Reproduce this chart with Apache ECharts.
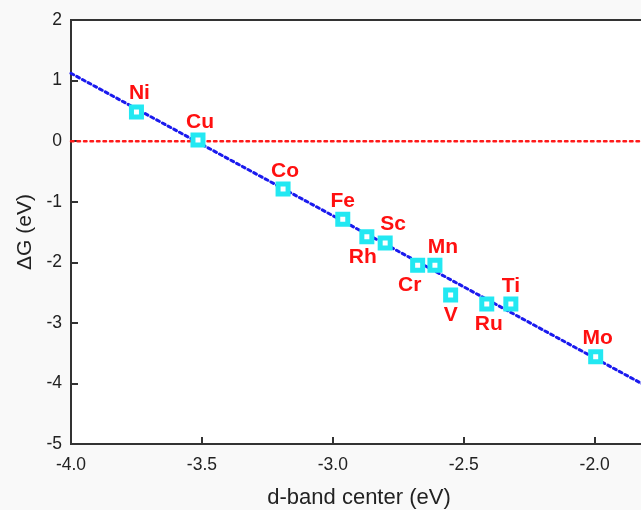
<!DOCTYPE html>
<html>
<head>
<meta charset="utf-8">
<script src="https://cdn.jsdelivr.net/npm/echarts@6/dist/echarts.min.js"></script>
<style>
html,body{margin:0;padding:0;background:#f9f9f9;}
#c{width:641px;height:510px;}
</style>
</head>
<body>
<div id="c"></div>
<script>
const metals = ['Ni','Cu','Co','Fe','Rh','Sc','Cr','Mn','V','Ru','Ti','Mo'];
const dBandCenter = [-3.75,-3.515,-3.19,-2.962,-2.87,-2.80,-2.676,-2.61,-2.55,-2.412,-2.32,-1.996];
const deltaG = [0.48,0.02,-0.79,-1.29,-1.58,-1.68,-2.05,-2.05,-2.54,-2.69,-2.69,-3.56];
const fitX = [-4.0,-1.8];
const fitY = [1.12,-4.05];
const zeroX = [-4.0,-1.8];
const zeroY = [0,0];
const xTicks = [-4.0,-3.5,-3.0,-2.5,-2.0];
const yTicks = [-5,-4,-3,-2,-1,0,1,2];
// label offsets (style only)
const labelOffsets = [[3,-19],[2,-18],[2,-18],[0,-18],[-4,20],[8,-19],[-8,20],[8,-18],[0,20],[2,20],[0,-18],[2,-19]];

const chart = echarts.init(document.getElementById('c'), null, {renderer:'canvas'});
const font = 'Arial, "Liberation Sans", sans-serif';
chart.setOption({
  backgroundColor:'#f9f9f9',
  animation:false,
  grid:{left:71, top:20, width:576, height:424, outerBoundsMode:'none', containLabel:false,
    show:true, backgroundColor:'#ffffff', borderColor:'#333', borderWidth:2},
  xAxis:{
    type:'value', min:-4.0, max:-1.8, interval:0.5,
    axisLine:{show:true, onZero:false, lineStyle:{color:'#333', width:2}},
    axisTick:{show:true, inside:true, length:7, lineStyle:{color:'#333', width:2}},
    splitLine:{show:false},
    axisLabel:{color:'#222', fontSize:17.5, fontFamily:font, margin:12,
      formatter:v=>xTicks.some(t=>Math.abs(t-v)<1e-9)?v.toFixed(1):'', showMaxLabel:false},
    name:'d-band center (eV)', nameLocation:'middle', nameGap:43,
    nameTextStyle:{color:'#222', fontSize:22, fontFamily:font}
  },
  yAxis:{
    type:'value', min:-5, max:2, interval:1,
    axisLine:{show:true, onZero:false, lineStyle:{color:'#333', width:2}},
    axisTick:{show:true, inside:true, length:7, lineStyle:{color:'#333', width:2}},
    splitLine:{show:false},
    axisLabel:{color:'#222', fontSize:17.5, fontFamily:font, margin:9,
      formatter:v=>yTicks.includes(v)?String(v):''},
    name:'\u0394G (eV)', nameLocation:'middle', nameGap:32, nameRotate:90,
    nameTextStyle:{color:'#222', fontSize:21, fontFamily:font}
  },
  series:[
    {type:'line', data:zeroX.map((x,i)=>[x,zeroY[i]]), symbol:'none', silent:true,
     lineStyle:{color:'#ff1a1a', width:2.5, type:[2.5,4], cap:'round'}, z:2},
    {type:'line', data:fitX.map((x,i)=>[x,fitY[i]]), symbol:'none', silent:true,
     lineStyle:{color:'#1a1aee', width:3, type:[3,3.5], cap:'round'}, z:3},
    {type:'scatter', data:dBandCenter.map((x,i)=>({value:[x,deltaG[i]],
        label:{offset:labelOffsets[i]}})),
     symbol:'rect', symbolSize:10, z:4,
     itemStyle:{color:'#ffffff', borderColor:'#22e8f2', borderWidth:5, opacity:1},
     label:{show:true, position:'inside', formatter:p=>metals[p.dataIndex],
       color:'#ff1010', fontSize:21, fontWeight:'bold', fontFamily:font}
    }
  ]
});
</script>
</body>
</html>
